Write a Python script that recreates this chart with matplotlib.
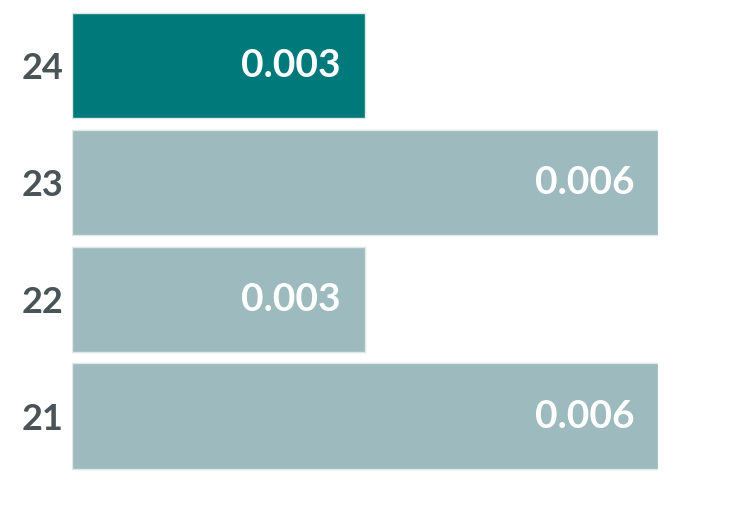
import matplotlib
matplotlib.use("Agg")
import matplotlib.pyplot as plt
from matplotlib import transforms

years = ["21", "22", "23", "24"]
values = [0.006, 0.003, 0.006, 0.003]
labels = ["0.006", "0.003", "0.006", "0.003"]
highlight = "24"

dark = "#00797a"
light = "#9dbabe"

plt.rcParams['font.family'] = ['Lato', 'DejaVu Sans']

fig = plt.figure(figsize=(7.30, 5.32), dpi=100)
ax = fig.add_axes([72 / 730, 1 - 474.5 / 532, (658 - 72) / 730, 467.5 / 532])

pos = list(range(len(years)))
colors = [dark if y == highlight else light for y in years]
ax.barh(pos, values, height=0.9, color=colors, edgecolor="#dfe7e9", linewidth=1)

ax.set_xlim(0, 0.006)
ax.set_ylim(-0.5, 3.5)

# value labels inside the bar end
off = transforms.offset_copy(ax.transData, fig=fig, x=-24, y=0, units="dots")
for p, v, t in zip(pos, values, labels):
    ax.text(v, p, t, transform=off, ha="right", va="center",
            color="white", fontsize=28, fontweight="bold")

ax.set_yticks(pos)
ax.set_yticklabels(years, fontsize=26, fontweight="bold", color="#4a5457")
ax.tick_params(axis="y", length=0, pad=6)
ax.set_xticks([])
for s in ax.spines.values():
    s.set_visible(False)

fig.savefig("out.png", dpi=100)
